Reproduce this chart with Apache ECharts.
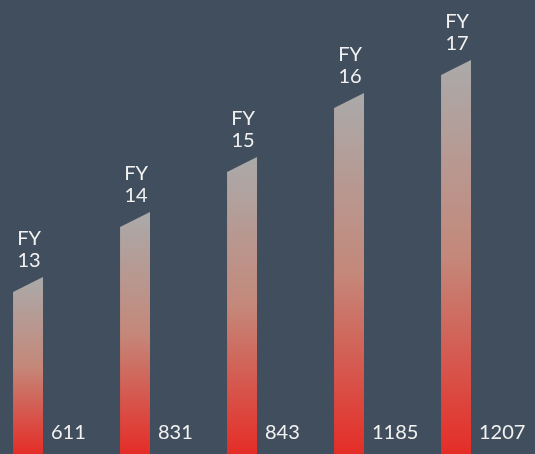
<!DOCTYPE html>
<html>
<head>
<meta charset="utf-8">
<script src="https://cdn.jsdelivr.net/npm/echarts@6/dist/echarts.min.js"></script>
<style>
html,body{margin:0;padding:0;background:#404e5d;}
#chart{width:535px;height:454px;}
</style>
</head>
<body>
<div id="chart"></div>
<script>
// Fiscal-year categories (label lines)
const categories = ['FY\n13', 'FY\n14', 'FY\n15', 'FY\n16', 'FY\n17'];
// Values printed next to each bar
const values = [611, 831, 843, 1185, 1207];
// Displayed bar heights (decorative scale, px-equivalent units)
const barHeights = [177, 242, 297, 361, 394];

const chart = echarts.init(document.getElementById('chart'));
const FONT = 'Lato';

chart.setOption({
  backgroundColor: '#404e5d',
  animation: false,
  grid: { left: 0, right: 0, top: 0, bottom: 0 },
  xAxis: { type: 'category', data: categories, show: false },
  yAxis: { type: 'value', min: 0, max: 454, show: false },
  series: [{
    type: 'custom',
    data: barHeights.map((h, i) => [i, h, values[i]]),
    renderItem: function (params, api) {
      const i = api.value(0);
      const top = api.coord([i, api.value(1)]);
      const base = api.coord([i, 0]);
      const cw = api.size([1, 0])[0];
      const x0 = top[0] - cw * 0.378;
      const x1 = top[0] - cw * 0.098;
      const slant = 15;
      const cx = (x0 + x1) / 2 + 1;
      return {
        type: 'group',
        children: [
          {
            type: 'polygon',
            shape: { points: [[x0, base[1]], [x0, top[1] + slant], [x1, top[1]], [x1, base[1]]] },
            style: {
              fill: new echarts.graphic.LinearGradient(0, 0, 0, 1, [
                { offset: 0, color: '#aaaaaa' },
                { offset: 0.5, color: '#c4887a' },
                { offset: 1, color: '#e52d27' }
              ])
            }
          },
          {
            type: 'text',
            x: cx, y: top[1] - 5,
            style: {
              text: categories[i],
              fill: '#f2f2f2',
              font: 'normal 20px ' + FONT,
              lineHeight: 22,
              align: 'center',
              verticalAlign: 'bottom'
            }
          },
          {
            type: 'text',
            x: x1 + 8, y: base[1] - 21,
            style: {
              text: String(api.value(2)),
              fill: '#f2f2f2',
              font: 'normal 20px ' + FONT,
              align: 'left',
              verticalAlign: 'middle'
            }
          }
        ]
      };
    }
  }]
});
</script>
</body>
</html>
